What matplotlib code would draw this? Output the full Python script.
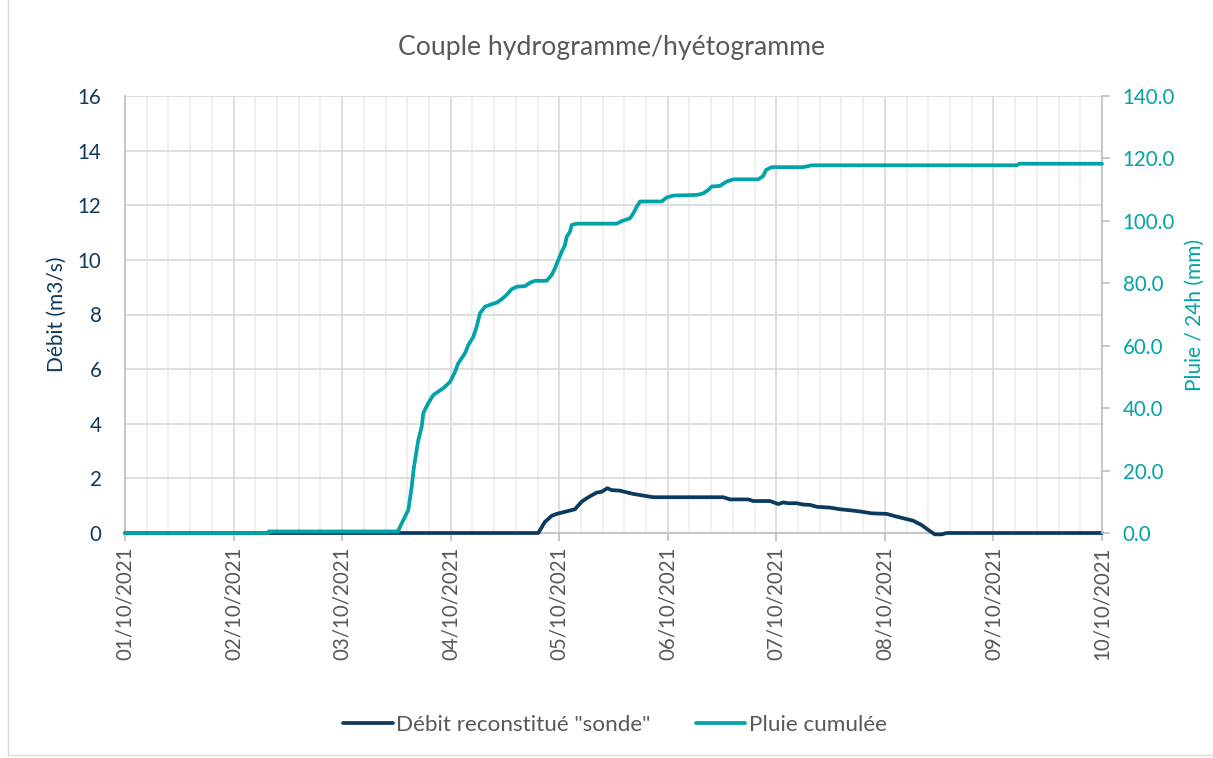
import matplotlib
matplotlib.use("Agg")
import matplotlib.pyplot as plt
from matplotlib.lines import Line2D
import numpy as np

plt.rcParams['font.family'] = ['Lato', 'DejaVu Sans']

# ---------------- data ----------------
day_labels = ["01/10/2021", "02/10/2021", "03/10/2021", "04/10/2021", "05/10/2021",
              "06/10/2021", "07/10/2021", "08/10/2021", "09/10/2021", "10/10/2021"]

# time in days since 01/10/2021 00:00
debit_t = [0.0, 3.807, 3.869, 3.931, 3.977, 4.145, 4.207, 4.268, 4.345, 4.391,
           4.443, 4.483, 4.560, 4.621, 4.682, 4.774, 4.866, 5.511, 5.573, 5.742,
           5.788, 5.942, 6.018, 6.064, 6.110, 6.187, 6.248, 6.309, 6.372, 6.493,
           6.585, 6.709, 6.801, 6.878, 7.016, 7.108, 7.261, 7.339, 7.400, 7.461,
           7.523, 7.569, 9.0]
debit_q = [0.0, 0.0, 0.41, 0.63, 0.70, 0.87, 1.15, 1.31, 1.48, 1.51,
           1.64, 1.57, 1.55, 1.49, 1.43, 1.37, 1.31, 1.31, 1.23, 1.23,
           1.17, 1.17, 1.06, 1.12, 1.09, 1.09, 1.04, 1.03, 0.96, 0.93,
           0.87, 0.82, 0.77, 0.72, 0.70, 0.60, 0.45, 0.29, 0.11, -0.05,
           -0.05, 0.0, 0.0]

pluie_t = [0.0, 1.317, 1.322, 2.487, 2.515, 2.549, 2.610, 2.641, 2.662, 2.702,
           2.733, 2.748, 2.794, 2.840, 2.932, 2.994, 3.040, 3.070, 3.132, 3.162,
           3.208, 3.239, 3.270, 3.316, 3.362, 3.424, 3.470, 3.516, 3.562, 3.608,
           3.685, 3.731, 3.777, 3.885, 3.931, 3.961, 3.992, 4.023, 4.053, 4.069,
           4.099, 4.115, 4.161, 4.529, 4.575, 4.652, 4.682, 4.714, 4.744, 4.944,
           4.990, 5.051, 5.266, 5.327, 5.373, 5.404, 5.481, 5.543, 5.603, 5.834,
           5.880, 5.905, 5.957, 6.248, 6.325, 8.214, 8.240, 9.0]
pluie_mm = [0.0, 0.0, 0.5, 0.5, 0.6, 3.1, 7.4, 14.8, 21.2, 29.8,
            34.0, 38.4, 41.6, 44.2, 46.4, 48.4, 51.6, 54.4, 57.6, 60.2,
            62.8, 66.0, 70.4, 72.5, 73.1, 73.8, 74.9, 76.3, 78.1, 78.9,
            79.1, 80.2, 80.8, 80.8, 82.7, 84.8, 87.5, 90.1, 92.3, 94.9,
            96.5, 98.7, 99.1, 99.1, 99.9, 100.8, 102.4, 104.5, 106.2, 106.2,
            107.5, 108.1, 108.3, 108.8, 109.9, 111.0, 111.2, 112.6, 113.3, 113.3,
            114.4, 116.3, 117.2, 117.2, 117.8, 117.8, 118.3, 118.3]

# ---------------- style ----------------
NAVY = "#0b3a5e"
TEAL = "#00a3a8"
GREY_TXT = "#595959"
GRID_MAJ = "#d9d9d9"
GRID_MIN = "#eeeeee"
TICK_FS = 14.8

fig = plt.figure(figsize=(12.13, 7.58), dpi=100)
ax = fig.add_axes([125/1213, 1-533/758, (1102-125)/1213, (533-96)/758])
ax2 = ax.twinx()

ax.set_xlim(0, 9)
ax.set_ylim(0, 16)
ax2.set_ylim(0, 140)
ax.set_xticks(np.arange(0, 10))
ax.set_xticks(np.arange(0, 9.01, 0.2), minor=True)
ax.set_yticks(np.arange(0, 17, 2))
ax2.set_yticks(np.arange(0, 141, 20))
ax.grid(True, which='major', axis='both', color=GRID_MAJ, lw=1.2, zorder=0)
ax.grid(True, which='minor', axis='x', color=GRID_MIN, lw=1.2, zorder=0)
ax.set_axisbelow(True)

ax.plot(debit_t, debit_q, color=NAVY, lw=2.7, solid_capstyle='round',
        label='Débit reconstitué "sonde"', zorder=3, clip_on=False)
ax2.plot(pluie_t, pluie_mm, color=TEAL, lw=2.7, solid_capstyle='round',
         label='Pluie cumulée', zorder=3, clip_on=False)

# spines
ax.spines['top'].set_visible(False)
ax.spines['right'].set_visible(False)
for s in ('left', 'bottom'):
    ax.spines[s].set_color("#bfbfbf")
    ax.spines[s].set_linewidth(1.2)
    ax.spines[s].set_zorder(1)
for s in ('top', 'left', 'bottom'):
    ax2.spines[s].set_visible(False)
ax2.spines['right'].set_color("#bfbfbf")
ax2.spines['right'].set_linewidth(1.2)

ax.set_xticklabels(day_labels, rotation=90, color=GREY_TXT, fontsize=TICK_FS)
ax.tick_params(axis='x', which='major', length=6, color="#bfbfbf", width=1.2, pad=4)
ax.tick_params(axis='x', which='minor', length=0)
ax.tick_params(axis='y', length=0, labelcolor=NAVY, labelsize=TICK_FS, pad=17)
ax2.set_yticklabels([f"{v:.1f}" for v in np.arange(0, 141, 20)])
ax2.tick_params(axis='y', length=6, color="#bfbfbf", width=1.2,
                labelcolor=TEAL, labelsize=TICK_FS, pad=9)

ax.set_ylabel("Débit (m3/s)", color=NAVY, fontsize=15, labelpad=8)
ax2.set_ylabel("Pluie / 24h (mm)", color=TEAL, fontsize=15, labelpad=7)

fig.text(0.5045, 1-47/758, "Couple hydrogramme/hyétogramme", ha='center', va='center',
         fontsize=19.2, color=GREY_TXT)

h1, l1 = ax.get_legend_handles_labels()
h2, l2 = ax2.get_legend_handles_labels()
fig.legend(h1 + h2, l1 + l2, loc='center', bbox_to_anchor=(0.507, 1-725/758),
           ncol=2, frameon=False, fontsize=16.2, labelcolor=GREY_TXT,
           handlelength=2.2, handletextpad=0.15, columnspacing=2.0)

# outer chart frame (only left and bottom edges visible in the image)
fig.add_artist(Line2D([8/1213, 8/1213], [3/758, 1.0], transform=fig.transFigure,
                      color="#d9d9d9", lw=1.0))
fig.add_artist(Line2D([8/1213, 1.0], [3/758, 3/758], transform=fig.transFigure,
                      color="#d9d9d9", lw=1.0))

fig.savefig("out.png", dpi=100)
